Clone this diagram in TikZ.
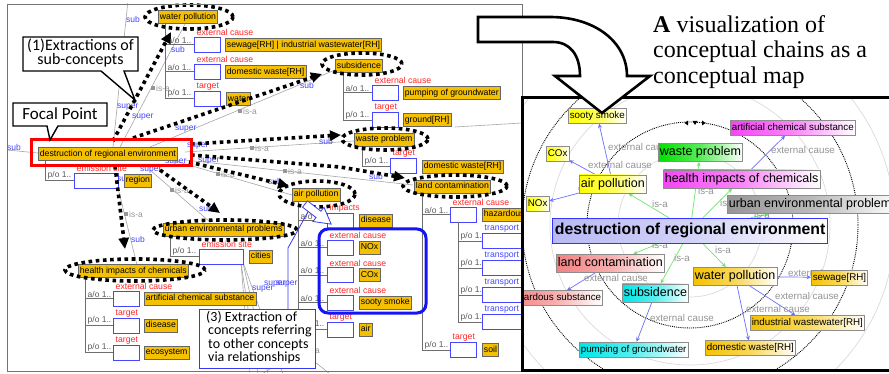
\documentclass[tikz,border=0pt]{standalone}
\usepackage{fontspec}
\setmainfont{Liberation Sans}
\newfontfamily\titlefont{Liberation Serif}
\newfontfamily\callfont{Carlito}
\usetikzlibrary{arrows.meta,calc}
\pgfdeclarelayer{back}
\pgfsetlayers{back,main}
\definecolor{lorange}{RGB}{245,192,0}
\definecolor{lblue}{RGB}{70,70,255}
\definecolor{lred}{RGB}{255,40,40}
\definecolor{cardgray}{RGB}{90,90,90}
\definecolor{isagray}{RGB}{150,150,150}
\definecolor{treegray}{RGB}{110,110,110}
\definecolor{calloutblue}{RGB}{20,20,245}
\definecolor{myellow}{RGB}{255,255,0}
\definecolor{mgreen}{RGB}{0,225,0}
\definecolor{mmagenta}{RGB}{245,70,245}
\definecolor{mgray}{RGB}{150,150,150}
\definecolor{msalmon}{RGB}{242,130,130}
\definecolor{mcyan}{RGB}{0,230,230}
\definecolor{morange}{RGB}{245,195,0}
\definecolor{mlav}{RGB}{185,185,245}
\definecolor{medgeblue}{RGB}{110,110,255}
\definecolor{medgegreen}{RGB}{110,230,110}

\newcommand{\slotrow}[7]{%
  \draw[tree] (#1,#2) -- (#3,#2);
  \node[card] at (#1+2,#2-0.5) {#4};
  \node[eb, minimum width=#7] (#6) at (#3,#2) {};
  \node[rel] at ([xshift=2pt]#6.north west) {#5};}
\newcommand{\isamark}[2]{%
  \fill[isagray] (#1-2,#2-2) rectangle (#1+2,#2+2);
  \node[isat] at (#1+3,#2) {is-a};}

\begin{document}
\begin{tikzpicture}[x=1pt,y=-1pt,
  lbl/.style={draw=black!60, fill=lorange, font=\fontsize{8.7}{9}\selectfont, inner xsep=1.6pt, inner ysep=2.3pt, text height=6.6pt, text depth=1.9pt, anchor=west, line width=0.6pt},
  eb/.style={draw=lblue, fill=white, minimum height=15pt, inner sep=0pt, anchor=west, line width=0.6pt},
  rel/.style={text=lred, font=\fontsize{8.7}{9}\selectfont, inner sep=0.5pt, anchor=south west},
  card/.style={text=cardgray, font=\fontsize{8.5}{9}\selectfont, inner sep=0.5pt, anchor=south west},
  tree/.style={draw=treegray, line width=0.8pt},
  glink/.style={draw=black!35, line width=0.6pt},
  bl/.style={text=lblue, font=\fontsize{8.5}{9}\selectfont, inner sep=0pt, anchor=west},
  isat/.style={text=isagray, font=\fontsize{8.5}{9}\selectfont, inner sep=0pt, anchor=west},
  dotb/.style={line width=3.6pt, dash pattern=on 3.6pt off 3.6pt, draw=black},
  dotarrow/.style={dotb, -{Triangle[length=11pt,width=10pt]}},
  mn/.style={draw=black!45, anchor=west, inner xsep=1.5pt, line width=0.6pt},
  mfill/.style={left color=#1, right color=white, middle color=#1!65!white},
  msmall/.style={mn, font=\fontsize{9.8}{10}\selectfont, text height=7.3pt, text depth=2.1pt, inner ysep=2.6pt},
  mmid/.style={mn, font=\fontsize{12.5}{13}\selectfont, text height=9.2pt, text depth=2.7pt, inner ysep=3.2pt},
  bedge/.style={draw=medgeblue, line width=0.7pt, -{Stealth[length=4.5pt,width=4pt]}},
  gedge/.style={draw=medgegreen, line width=0.7pt, -{Stealth[length=4.5pt,width=4pt]}},
  elab/.style={text=black!42, font=\fontsize{9.8}{10}\selectfont, inner sep=0pt}
]
\useasboundingbox (0,0) rectangle (889,374);
\begin{pgfonlayer}{back}
  \fill[white] (0,0) rectangle (889,374);
  \begin{scope}
    \clip (522,97) rectangle (889,371);
    \draw[black!14, line width=0.7pt] (690,225) circle [radius=72pt];
    \draw[black!14, line width=0.7pt] (690,225) circle [radius=140pt];
    \draw[black!14, line width=0.7pt] (690,225) circle [radius=205pt];
    \draw[black, densely dotted, line width=0.9pt] (690,225) circle [radius=103pt];
    \draw[black, densely dotted, line width=0.9pt] (690,225) circle [radius=168pt];
  \end{scope}
\end{pgfonlayer}

% ================= LEFT PANEL =================
\begin{scope}
\clip (7,4) rectangle (522,372);
% gray links
\draw[glink] (113,147) -- (128,0);
\draw[glink] (120,147) -- (185,24);
\draw[glink] (150,147) -- (335,70);
\draw[glink] (185,152) -- (354,141);
\draw[glink] (185,160) -- (413,185);
\draw[glink] (175,161) -- (292,195);
\draw[glink] (150,170) -- (210,222);
\draw[glink] (118,188) -- (137,265);
\draw[glink] (7,150) -- (38,153);
\draw[glink] (455,127) -- (522,123);
\draw[glink] (241,263) -- (250,374);
\draw[glink] (241,263) -- (258,374);
\draw[glink] (243,263) -- (268,374);
\draw[glink] (243,262) -- (283,374);
\draw[glink] (262,374) -- (300,350) -- (330,374);
% is-a markers
\isamark{153}{88}
\isamark{240}{111}
\isamark{252}{148}
\isamark{285}{171}
\isamark{218}{174}
\isamark{172}{190}
\isamark{126}{214}
\isamark{303}{350}
% blue sub/super labels
\node[bl] at (7,147) {sub};
\node[bl] at (126,19) {sub};
\node[bl] at (171,49) {sub};
\node[bl] at (117,107) {super};
\node[bl] at (132,117) {super};
\node[bl] at (175,129) {super};
\node[bl] at (187,146) {super};
\node[bl] at (165,162) {super};
\node[bl] at (198,161) {super};
\node[bl] at (140,170) {super};
\node[bl] at (117,180) {super};
\node[bl] at (300,85) {sub};
\node[bl] at (319,141) {sub};
\node[bl] at (369,176) {sub};
\node[bl] at (268,181) {sub};
\node[bl] at (199,208) {sub};
\node[bl] at (131,239) {sub};
\node[bl] at (252,289) {super};
\node[bl] at (264,284) {super};
\node[bl] at (276,284) {super};
% tree structures
\draw[tree] (165,24) -- (165,98.5);
\slotrow{165}{44.5}{194}{a/o 1..}{external cause}{wpa}{26pt}
\slotrow{165}{71.5}{194}{a/o 1..}{external cause}{wpb}{26pt}
\slotrow{165}{98.5}{194}{p/o 1..}{target}{wpc}{26pt}
\draw[tree] (343,72) -- (343,120);
\slotrow{343}{92.5}{372}{a/o 1..}{external cause}{sba}{26pt}
\slotrow{343}{120}{372}{p/o 1..}{target}{sbb}{26pt}
\draw[tree] (362,146) -- (362,166);
\slotrow{362}{166}{390}{p/o 1..}{target}{wsa}{26pt}
\draw[tree] (45,161) -- (45,180.5);
\slotrow{45}{180.5}{74}{p/o 1..}{emission site}{dsa}{44pt}
\draw[tree] (298,202) -- (298,329.5);
\slotrow{298}{220.5}{327}{a/o 1..}{impacts}{apa}{26pt}
\slotrow{298}{247.5}{327}{a/o 1..}{external cause}{apb}{26pt}
\slotrow{298}{275}{327}{a/o 1..}{external cause}{apc}{26pt}
\slotrow{298}{302.5}{327}{a/o 1..}{external cause}{apd}{26pt}
\slotrow{298}{329.5}{327}{p/o 1..}{target}{ape}{26pt}
\draw[tree] (422,193) -- (422,350);
\slotrow{422}{214.5}{450}{a/o 1..}{external cause}{lca}{26pt}
\draw[tree] (458,222) -- (458,322);
\slotrow{458}{241}{482}{p/o 1..}{\textcolor{lblue}{transport}}{lt1}{45pt}
\slotrow{458}{268}{482}{p/o 1..}{\textcolor{lblue}{transport}}{lt2}{45pt}
\slotrow{458}{295}{482}{p/o 1..}{\textcolor{lblue}{transport}}{lt3}{45pt}
\slotrow{458}{322}{482}{p/o 1..}{\textcolor{lblue}{transport}}{lt4}{45pt}
\slotrow{422}{350}{450}{p/o 1..}{target}{lcb}{26pt}
\draw[tree] (170,237) -- (170,256.5);
\slotrow{170}{256.5}{199}{p/o 1..}{emission site}{uea}{44pt}
\draw[tree] (85,277) -- (85,352.5);
\slotrow{85}{298.5}{113}{a/o 1..}{external cause}{hia}{26pt}
\slotrow{85}{325.5}{113}{p/o 1..}{target}{hib}{26pt}
\slotrow{85}{352.5}{113}{p/o 1..}{target}{hic}{26pt}
% orange concept labels
\node[lbl] (wp) at (158,17) {water pollution};
\node[lbl] (sew) at (225,45) {sewage[RH] | industrial wastewater[RH]};
\node[lbl] (dw1) at (225,72) {domestic waste[RH]};
\node[lbl] (water) at (226,99) {water};
\node[lbl] (subs) at (335,66) {subsidence};
\node[lbl] (pump) at (403,93) {pumping of groundwater};
\node[lbl] (ground) at (403,120) {ground[RH]};
\node[lbl] (waste) at (354,139.5) {waste problem};
\node[lbl] (dw2) at (422,166.5) {domestic waste[RH]};
\node[lbl] (land) at (414,186.5) {land contamination};
\node[lbl] (dest) at (38,154) {destruction of regional environment};
\node[lbl] (region) at (124,180.5) {region};
\node[lbl] (air) at (292,194.5) {air pollution};
\node[lbl] (dis1) at (359,220.5) {disease};
\node[lbl] (nox) at (359,247.5) {NOx};
\node[lbl] (cox) at (359,275) {COx};
\node[lbl] (soot) at (359,302.5) {sooty smoke};
\node[lbl] (airt) at (359,329.5) {air};
\node[lbl] (haz) at (482,214.5) {hazardous substance};
\node[lbl] (soil) at (482,350) {soil};
\node[lbl] (urban) at (163,229.5) {urban environmental problems};
\node[lbl] (cities) at (249,256.5) {cities};
\node[lbl] (health) at (78,271) {health impacts of chemicals};
\node[lbl] (acs) at (144,298.5) {artificial chemical substance};
\node[lbl] (dis2) at (144,325.5) {disease};
\node[lbl] (eco) at (144,352.5) {ecosystem};
% dotted ellipses
\draw[dotb] (189,17) ellipse [x radius=44pt, y radius=12pt];
\draw[dotb] (362,64) ellipse [x radius=40pt, y radius=11pt];
\draw[dotb] (385,139) ellipse [x radius=43pt, y radius=11pt];
\draw[dotb] (455,186) ellipse [x radius=52pt, y radius=11pt];
\draw[dotb] (317,194) ellipse [x radius=38pt, y radius=13pt];
\draw[dotb] (225,230) ellipse [x radius=72pt, y radius=10pt];
\draw[dotb] (135,270) ellipse [x radius=70pt, y radius=11pt];
% dotted arrows
\coordinate (d1s) at (113,141); \coordinate (d1e) at (171,32);
\coordinate (d2s) at (133,138); \coordinate (d2e) at (322,74);
\coordinate (d3s) at (191,144); \coordinate (d3e) at (341,135);
\coordinate (d4s) at (191,155); \coordinate (d4m) at (340,167); \coordinate (d4e) at (405,178);
\coordinate (d5s) at (189,162); \coordinate (d5e) at (289,186);
\coordinate (d6s) at (160,170); \coordinate (d6e) at (220,213);
\coordinate (d7s) at (115,166); \coordinate (d7e) at (125,249);
\draw[dotarrow] (d1s) -- (d1e);
\draw[dotarrow] (d2s) -- (d2e);
\draw[dotarrow] (d3s) -- (d3e);
\draw[dotarrow] (d4s) -- (d4m) -- (d4e);
\draw[dotarrow] (d5s) -- (d5e);
\draw[dotarrow] (d6s) -- (d6e);
\draw[dotarrow] (d7s) -- (d7e);
% focal red frame
\draw[red, line width=3pt] (31,140) rectangle (191,166);
% blue rounded frame
\draw[calloutblue, line width=3pt, rounded corners=9pt] (319,229) rectangle (426,313);
% callout (3)
\draw[calloutblue!85, line width=0.8pt] (288,309) -- (288,248) -- (309,210);
\begin{scope}[shift={(305,204)}, rotate=-37.6]
  \draw[calloutblue!85, line width=0.8pt, fill=white] (0,-4) -- (17,-4) -- (17,-9) -- (33,0) -- (17,9) -- (17,4) -- (0,4) -- cycle;
\end{scope}
\draw[calloutblue!85, line width=0.8pt, fill=white] (199,309) rectangle (315,368);
\node[font=\callfont\fontsize{14}{14}\selectfont, anchor=base west, inner sep=0pt] (c3a) at (206,321) {(3) Extraction of};
\node[font=\callfont\fontsize{14}{14}\selectfont, anchor=base west, inner sep=0pt] (c3b) at (208,334.5) {concepts referring};
\node[font=\callfont\fontsize{14}{14}\selectfont, anchor=base west, inner sep=0pt] (c3c) at (208,348) {to other concepts};
\node[font=\callfont\fontsize{14}{14}\selectfont, anchor=base west, inner sep=0pt] (c3d) at (208,361.5) {via relationships};
% callout (1)
\draw[line width=1.4pt, fill=white, line join=miter] (23,37) -- (138,37) -- (138,71) -- (124,71) -- (135,100) -- (101,71) -- (23,71) -- cycle;
\node[font=\callfont\fontsize{16}{16}\selectfont, anchor=base, inner sep=0pt] (c1a) at (80.5,51) {(1)Extractions of};
\node[font=\callfont\fontsize{16}{16}\selectfont, anchor=base, inner sep=0pt] (c1b) at (80.5,65) {sub-concepts};
% focal point callout
\draw[line width=1.4pt, fill=white, line join=miter] (13,103) -- (107,103) -- (107,126) -- (58,126) -- (50,140) -- (47,126) -- (13,126) -- cycle;
\node[font=\callfont\fontsize{17}{17}\selectfont, anchor=base, inner sep=0pt] (fp) at (60,119.5) {Focal Point};
\end{scope}
\draw[black!55, line width=0.8pt] (7,4) rectangle (522,371);

% ================= MAP =================
\begin{scope}
\clip (522,97) rectangle (889,371);
\node[msmall, mfill=myellow] (msoot) at (568,116) {sooty smoke};
\node[msmall, mfill=myellow] (mcox) at (546,154) {COx};
\node[msmall, mfill=myellow] (mnox) at (526,204) {NOx};
\node[mmid, mfill=myellow] (mair) at (579,184) {air pollution};
\node[mmid, mfill=mgreen] (mwaste) at (658,152.5) {waste problem};
\node[mmid, mfill=mmagenta] (mhealth) at (663,179) {health impacts of chemicals};
\node[msmall, mfill=mmagenta] (macs) at (730,128) {artificial chemical substance};
\node[mmid, mfill=mgray] (murban) at (727,204.5) {urban environmental problems};
\node[mn, draw=blue!80, line width=0.8pt, mfill=mlav, font=\bfseries\fontsize{15.8}{16}\selectfont, text height=11.5pt, text depth=3.4pt, inner ysep=5pt, inner xsep=2.5pt] (mdest) at (552,230.5) {destruction of regional environment};
\node[mmid, mfill=msalmon] (mland) at (556,263.5) {land contamination};
\node[msmall, mfill=msalmon, anchor=east] (mhaz) at (603,298) {hazardous substance};
\node[mmid, mfill=mcyan] (msubs) at (622,293) {subsidence};
\node[msmall, mfill=mcyan] (mpump) at (579,349.5) {pumping of groundwater};
\node[mmid, mfill=morange] (mwater) at (693,276.5) {water pollution};
\node[msmall, mfill=morange] (msew) at (811,277.5) {sewage[RH]};
\node[msmall, mfill=morange] (mind) at (750,323) {industrial wastewater[RH]};
\node[msmall, mfill=morange] (mdom) at (705,348) {domestic waste[RH]};
% view marker
\fill (688,120.5) -- (688,125.5) -- (684.5,123) -- cycle;
\fill (692.5,121) -- (697.5,121) -- (695,125) -- cycle;
\fill (702,120.5) -- (702,125.5) -- (705.5,123) -- cycle;
\end{scope}
\begin{pgfonlayer}{back}
\begin{scope}
  \clip (522,97) rectangle (889,371);
  \draw[bedge] (mair) -- (msoot);
  \draw[bedge] (mair) -- (mcox);
  \draw[bedge] (mair) -- (mnox);
  \draw[bedge] (mhealth) -- (macs);
  \draw[bedge] (mland) -- (mhaz);
  \draw[bedge] (msubs) -- (mpump);
  \draw[bedge] (mwater) -- (msew);
  \draw[bedge] (mwater) -- (mind);
  \draw[bedge] (mwater) -- (mdom);
  \draw[gedge] (mdest) -- (mair);
  \draw[gedge] (mdest) -- (mwaste);
  \draw[gedge] (mdest) -- (mhealth);
  \draw[gedge] (mdest) -- (murban);
  \draw[gedge] (mdest) -- (mland);
  \draw[gedge] (mdest) -- (msubs);
  \draw[gedge] (mdest) -- (mwater);
  \node[elab] at (640,147) {external cause};
  \node[elab] at (620,165) {external cause};
  \node[elab] at (610,188) {external cause};
  \node[elab] at (803,150) {external cause};
  \node[elab] at (616,278) {external cause};
  \node[elab] at (682,318) {external cause};
  \node[elab] at (820,273) {external cause};
  \node[elab] at (807,296) {external cause};
  \node[elab] at (778,309) {external cause};
  \node[elab] at (660,204) {is-a};
  \node[elab] at (706,191) {is-a};
  \node[elab] at (728,203) {is-a};
  \node[elab] at (762,215) {is-a};
  \node[elab] at (660,245) {is-a};
  \node[elab] at (682,258) {is-a};
  \node[elab] at (723,250) {is-a};
\end{scope}
\end{pgfonlayer}
\draw[line width=3pt, line join=miter] (895,97.5) -- (522,97.5) -- (522,370.5) -- (895,370.5);

% ================= BIG ARROW AND TITLE =================
\draw[line width=2.6pt, fill=white, line join=miter] (478,17) -- (550,17) .. controls (595,17) and (627,42) .. (627,76) -- (650,76) -- (602,113) -- (555,76) -- (580,76) .. controls (580,55) and (570,42) .. (553,42) -- (478,42) -- cycle;
\node[font=\titlefont\fontsize{24}{26}\selectfont, anchor=base west, inner sep=0pt] (t1) at (653,33) {\textbf{A} visualization of};
\node[font=\titlefont\fontsize{24}{26}\selectfont, anchor=base west, inner sep=0pt] (t2) at (653,58) {conceptual chains as a};
\node[font=\titlefont\fontsize{24}{26}\selectfont, anchor=base west, inner sep=0pt] (t3) at (653,84) {conceptual map};
\end{tikzpicture}
\end{document}
